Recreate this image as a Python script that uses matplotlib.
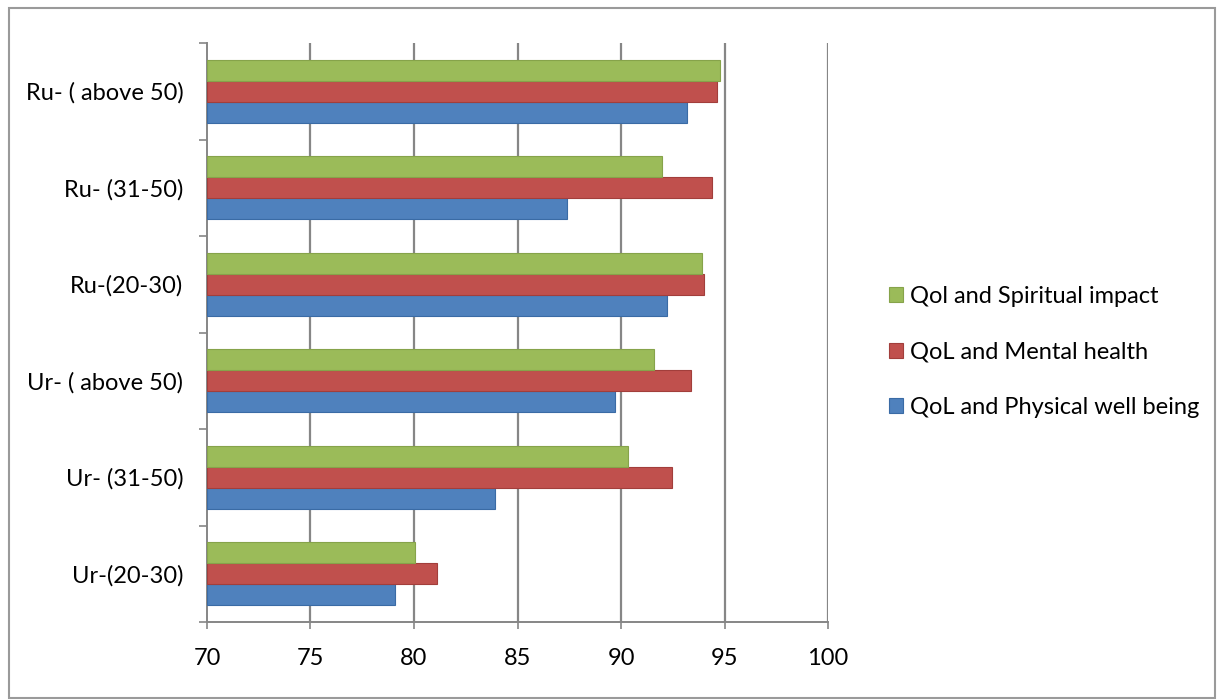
import matplotlib
matplotlib.use("Agg")
import matplotlib.pyplot as plt
from matplotlib.patches import Rectangle
import numpy as np

plt.rcParams['font.family'] = ['Lato', 'DejaVu Sans']

categories = ["Ur-(20-30)", "Ur- (31-50)", "Ur- ( above 50)",
              "Ru-(20-30)", "Ru- (31-50)", "Ru- ( above 50)"]
physical = [79.1, 83.9, 89.7, 92.2, 87.4, 93.2]
mental = [81.1, 92.45, 93.4, 94.0, 94.4, 94.65]
spiritual = [80.05, 90.35, 91.6, 93.9, 92.0, 94.8]
series_names = ["QoL and Physical well being", "QoL and Mental health", "Qol and Spiritual impact"]
xticks = [70, 75, 80, 85, 90, 95, 100]

colors = ["#4F81BD", "#C0504D", "#9BBB59"]
edges = ["#3A6BA5", "#A23E3B", "#86A34A"]

fig = plt.figure(figsize=(12.19, 7.0), dpi=100)
ax = fig.add_axes([0.1698, 0.1114, 0.5095, 0.8271])

y = np.arange(len(categories))
h = 0.218
offsets = [-h, 0, h]
for vals, off, c, ec, name in zip([physical, mental, spiritual], offsets, colors, edges, series_names):
    ax.barh(y + off, [v - 70 for v in vals], left=70, height=h, color=c,
            edgecolor=ec, linewidth=0.8, label=name, zorder=3)

ax.set_xlim(70, 100)
ax.set_ylim(-0.5, len(categories) - 0.5)
ax.set_xticks(xticks)
ax.set_xticklabels([str(t) for t in xticks], fontsize=17)
for t in xticks[1:]:
    ax.axvline(t, color="#868686", linewidth=1.6, zorder=1)

ax.set_yticks(y)
ax.set_yticklabels(categories, fontsize=17)
ax.set_yticks(np.arange(-0.5, len(categories)), minor=True)
ax.tick_params(axis='y', which='major', length=0, pad=17)
ax.tick_params(axis='y', which='minor', length=6, width=1.2, color="#868686", direction='out')
ax.tick_params(axis='x', which='major', length=5, width=1.2, color="#868686", direction='out', pad=14)

for s in ['top', 'right']:
    ax.spines[s].set_visible(False)
for s in ['left', 'bottom']:
    ax.spines[s].set_color("#868686")
    ax.spines[s].set_linewidth(1.4)

handles, labels = ax.get_legend_handles_labels()
leg = fig.legend(handles[::-1], labels[::-1], loc='center left',
                 bbox_to_anchor=(0.712, 0.497), frameon=False, fontsize=17,
                 handlelength=0.6, handleheight=0.6, handletextpad=0.3,
                 labelspacing=1.47)

fig.patches.append(Rectangle((0.007, 0.003), 0.99, 0.985, transform=fig.transFigure,
                             fill=False, edgecolor="#9a9a9a", linewidth=1.5))

fig.savefig("out.png", dpi=100)
